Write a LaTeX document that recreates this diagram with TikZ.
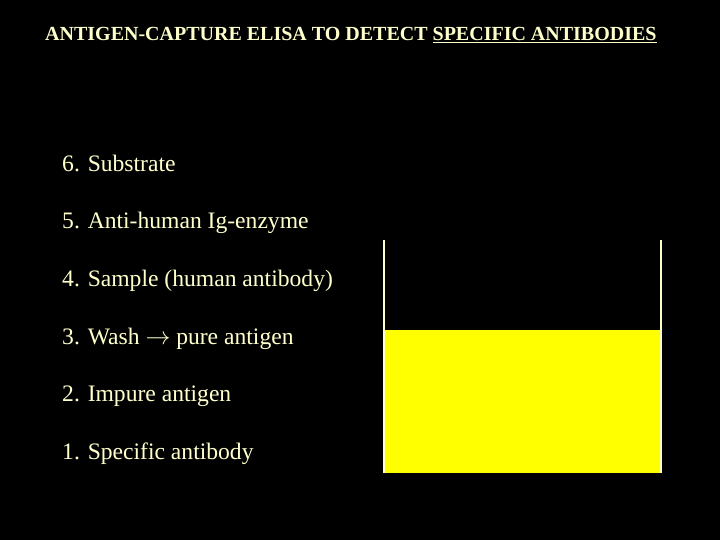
\documentclass[tikz,border=0pt]{standalone}
\usepackage{fontspec}
\setmainfont{Liberation Serif}
\usepackage{tikz}
\usetikzlibrary{matrix,positioning}

\definecolor{paleyellow}{HTML}{FFFFCC}
\definecolor{wellyellow}{HTML}{FFFF00}

\begin{document}
\begin{tikzpicture}[x=1pt,y=-1pt,
    steptext/.style={text=paleyellow,font=\fontsize{23.6}{27}\selectfont,inner sep=0pt,
      text height=17pt,text depth=5pt,anchor=base west}]
\fill[black] (0,0) rectangle (720,540);
\useasboundingbox (0,0) rectangle (720,540);

% title
\node[anchor=base west,inner sep=0pt,text=paleyellow,font=\bfseries\fontsize{20}{23}\selectfont] (title) at (45,41)
  {ANTIGEN-CAPTURE ELISA TO DETECT \underline{SPECIFIC ANTIBODIES}};

% steps
\matrix [matrix of nodes,nodes={steptext},row sep=35.6pt,inner sep=0pt,anchor=north west] (steps) at (62,154)
{
    6. Substrate\\
    5. Anti-human Ig-enzyme\\
    4. Sample (human antibody)\\
    3. Wash $\rightarrow$ pure antigen\\
    2. Impure antigen\\
    1. Specific antibody\\
};

% well
\coordinate (welltl) at (384,240);
\coordinate (welltr) at (661,240);
\coordinate (wellbl) at (384,473);
\coordinate (wellbr) at (661,473);
\fill[wellyellow] (384,330) rectangle (wellbr);
\draw[paleyellow,line width=1.3pt] (welltl) -- (wellbl);
\draw[paleyellow,line width=1.3pt] (welltr) -- (wellbr);
\end{tikzpicture}
\end{document}
